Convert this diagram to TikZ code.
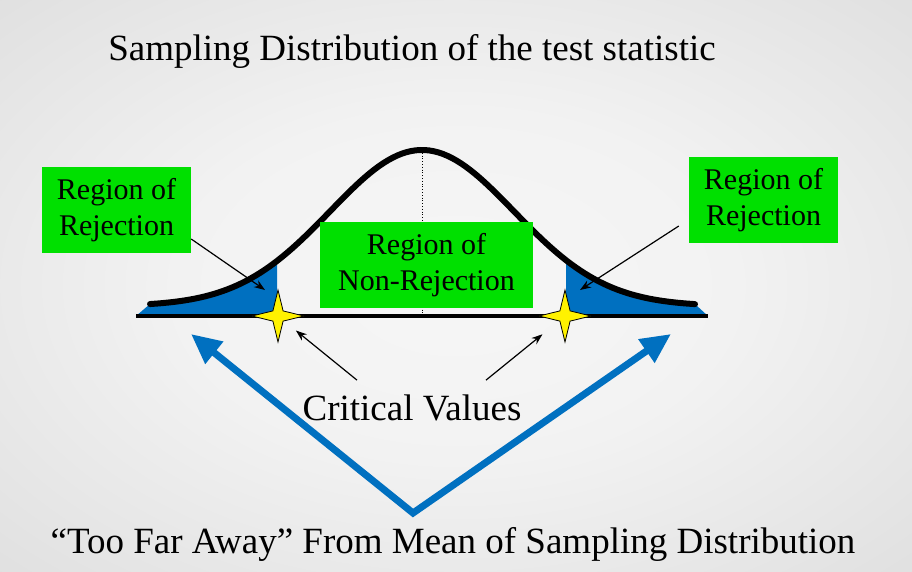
\documentclass[tikz,border=0pt]{standalone}
\usepackage{fontspec}
\setmainfont{Liberation Serif}
\usetikzlibrary{positioning}
\usetikzlibrary{arrows.meta}
\usetikzlibrary{shapes.geometric}

\definecolor{rejBlue}{RGB}{0,112,192}
\definecolor{boxGreen}{RGB}{0,224,0}
\pgfdeclareradialshading{slideBg}{\pgfpoint{0bp}{0bp}}{color(0bp)=(gray!7); color(15bp)=(gray!10); color(50bp)=(gray!34)}

\newcommand{\gaussY}[1]{306-156*exp(-0.5*((#1-422)/92)*((#1-422)/92))}

\tikzset{
    bigText/.style={font=\fontsize{37}{44}\selectfont, inner sep=0pt, anchor=base},
    regionBox/.style={fill=boxGreen, align=center, minimum height=86pt, inner sep=0pt,
        font=\fontsize{30}{36}\selectfont},
    critStar/.style={star, star points=4, star point ratio=3.6, minimum size=52pt,
        inner sep=0pt, fill=yellow, draw=black, line width=0.8pt},
    pointer/.style={-{Stealth[length=11pt,width=8pt]}, line width=1.2pt},
    farArrow/.style={{Triangle[length=30pt,width=27pt]}-{Triangle[length=30pt,width=27pt]},
        line width=7pt, draw=rejBlue, line join=miter},
}

\begin{document}
\begin{tikzpicture}[x=1pt, y=-1pt]
        \shade[shading=slideBg] (0,0) rectangle (912,571);
        \useasboundingbox (0,0) rectangle (912,571);

        % tails of the curve
        \fill[rejBlue] (136,316) -- (150,304)
            -- plot[domain=150:277, samples=40] (\x,{\gaussY{\x}}) -- (277,316) -- cycle;
        \fill[rejBlue] (566,316)
            -- plot[domain=566:695, samples=40] (\x,{\gaussY{\x}}) -- (708,316) -- cycle;

        \draw[dotted, line width=0.8pt] (422,150) -- (422,316);
        \draw[line width=4pt] (136,316) -- (708,316);
        \draw[line width=6pt, line cap=round]
            plot[domain=150:695, samples=120] (\x,{\gaussY{\x}});

        \node[bigText] (title) at (412,60) {Sampling Distribution of the test statistic};

        \node[regionBox, minimum width=149pt] (rejLeft) at (116.5,210) {Region of\\Rejection};
        \node[regionBox, minimum width=149pt] (rejRight) at (763.5,200) {Region of\\Rejection};
        \node[regionBox, minimum width=213pt] (nonRej) at (426.5,265) {Region of\\Non-Rejection};

        \node[critStar] (critLeft) at (278,316) {};
        \node[critStar] (critRight) at (565,316) {};

        \node[bigText] (critical) at (412,420) {Critical Values};
        \node[bigText] (farAway) at (453,553) {“Too Far Away” From Mean of Sampling Distribution};

        \coordinate (tailLeft) at (265,290);
        \coordinate (tailRight) at (580,290);
        \draw ([yshift=-29pt]rejLeft.east) [pointer]-- (tailLeft);
        \draw ([shift={(-10pt,-26pt)}]rejRight.west) [pointer]-- (tailRight);

        \draw ([shift={(-55pt,14pt)}]critical.north) [pointer, shorten >=23pt]-- (critLeft.center);
        \draw ([shift={(74pt,14pt)}]critical.north) [pointer, shorten >=29pt]-- (critRight.center);

        %\fill[red] (413,513) circle (3pt);
        \coordinate (vertex) at (413,513);
        \coordinate (farLeft) at (191,334);
        \coordinate (farRight) at (671,334);
        \draw[farArrow] (farLeft) -- (vertex) -- (farRight);
\end{tikzpicture}
\end{document}
